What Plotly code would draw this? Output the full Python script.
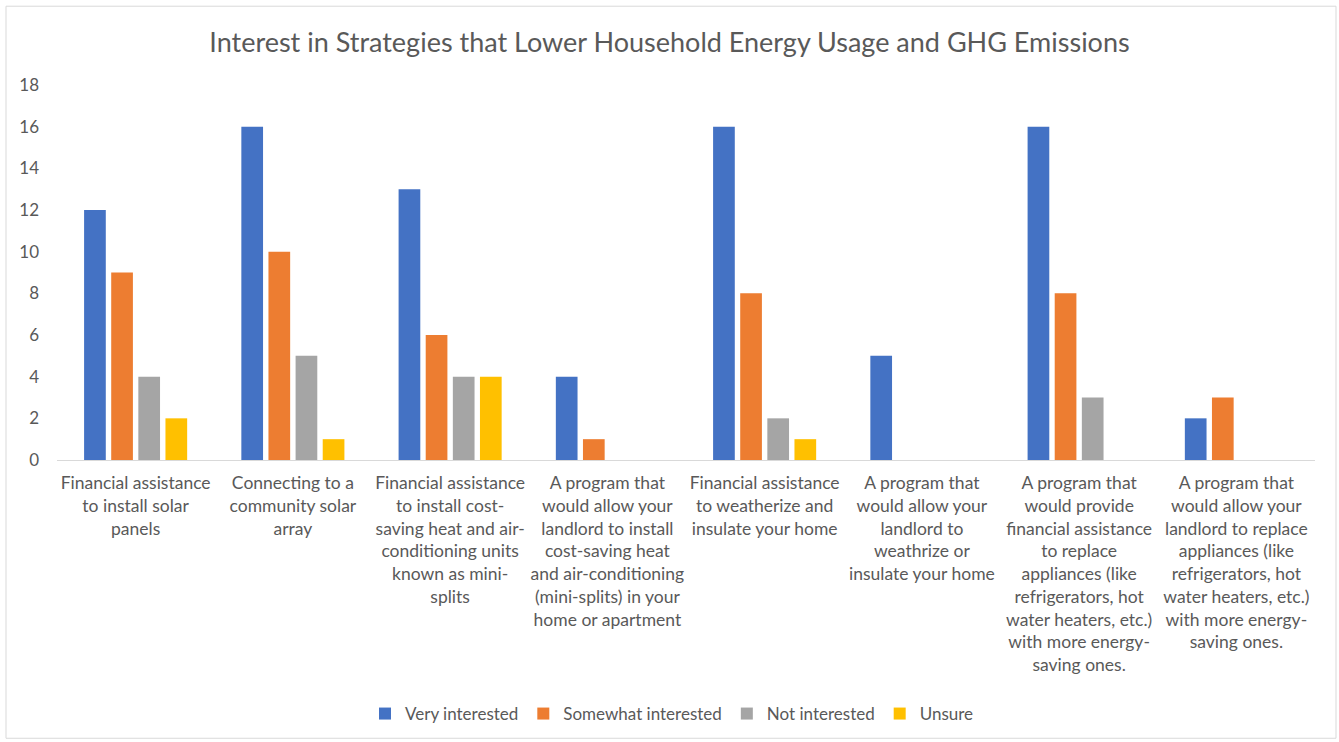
import plotly.graph_objects as go

categories = [
    "Financial assistance<br>to install solar<br>panels",
    "Connecting to a<br>community solar<br>array",
    "Financial assistance<br>to install cost-<br>saving heat and air-<br>conditioning units<br>known as mini-<br>splits",
    "A program that<br>would allow your<br>landlord to install<br>cost-saving heat<br>and air-conditioning<br>(mini-splits) in your<br>home or apartment",
    "Financial assistance<br>to weatherize and<br>insulate your home",
    "A program that<br>would allow your<br>landlord to<br>weathrize or<br>insulate your home",
    "A program that<br>would provide<br>financial assistance<br>to replace<br>appliances (like<br>refrigerators, hot<br>water heaters, etc.)<br>with more energy-<br>saving ones.",
    "A program that<br>would allow your<br>landlord to replace<br>appliances (like<br>refrigerators, hot<br>water heaters, etc.)<br>with more energy-<br>saving ones.",
]

very_interested = [12, 16, 13, 4, 16, 5, 16, 2]
somewhat_interested = [9, 10, 6, 1, 8, 0, 8, 3]
not_interested = [4, 5, 4, 0, 2, 0, 3, 0]
unsure = [2, 1, 4, 0, 1, 0, 0, 0]

series = [
    ("Very interested", very_interested, "#4472C4"),
    ("Somewhat interested", somewhat_interested, "#ED7D31"),
    ("Not interested", not_interested, "#A5A5A5"),
    ("Unsure", unsure, "#FFC000"),
]

FONT = "Lato"
TEXT = "#595959"

fig = go.Figure()
for name, vals, color in series:
    fig.add_trace(go.Bar(name=name, x=categories, y=vals, marker_color=color,
                         marker_line_width=0))

W, H = 1339, 742
L, R, T, B = 57, 24, 85, 281
pw, ph = W - L - R, H - T - B

fig.update_layout(
    width=W, height=H,
    margin=dict(l=L, r=R, t=T, b=B),
    paper_bgcolor="white", plot_bgcolor="white",
    barmode="group", bargap=0.31, bargroupgap=0.2,
    font=dict(family=FONT, color=TEXT, size=17),
    title=dict(text="Interest in Strategies that Lower Household Energy Usage and GHG Emissions",
               x=0.5, xanchor="center", y=1 - 43 / H, yanchor="middle",
               font=dict(size=27, color=TEXT, family=FONT)),
    legend=dict(orientation="h", x=0.5 - 14 / pw, xanchor="center",
                y=(T + ph - 714) / ph, yanchor="middle",
                font=dict(size=17, color=TEXT), traceorder="normal",
                itemwidth=30),
    showlegend=True,
)
fig.update_xaxes(showline=True, linecolor="#D9D9D9", linewidth=1,
                 ticks="", tickangle=0, showgrid=False, ticklabelstandoff=7,
                 tickfont=dict(size=17.5, color=TEXT, family=FONT))
fig.update_yaxes(range=[0, 18], dtick=2, showgrid=False, zeroline=False,
                 showline=False, ticks="", ticklabelstandoff=17,
                 tickfont=dict(size=17, color=TEXT, family=FONT))

# chart border
fig.add_shape(type="rect", xref="paper", yref="paper",
              x0=(6 - L) / pw, x1=(1336 - L) / pw,
              y0=(T + ph - 740) / ph, y1=(T + ph - 6) / ph,
              line=dict(color="#D9D9D9", width=1), layer="below")

fig.write_html("out.html")
